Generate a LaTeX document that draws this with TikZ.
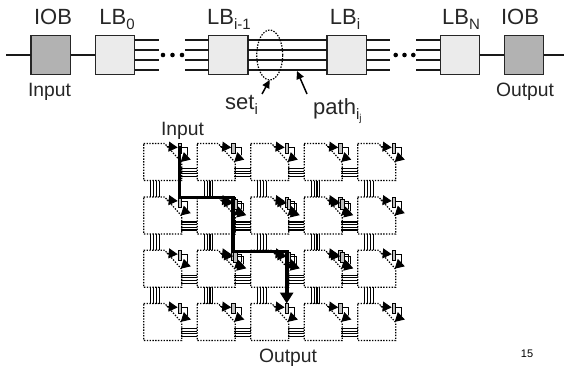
\documentclass[tikz,border=0pt]{standalone}
\usepackage{fontspec}
\setmainfont{Liberation Sans}
\usetikzlibrary{arrows.meta,shapes.geometric}
\newcommand{\fsz}[1]{\fontsize{#1}{#1}\selectfont}
\newcommand{\subt}[2]{\raisebox{-4.5pt}{\fsz{#1}#2}}
\tikzset{
 lbbox/.style={draw=black!85,line width=1.4pt,fill=black!8,minimum size=39.5pt,inner sep=0,outer sep=0,rectangle},
 iobbox/.style={lbbox,fill=black!30},
 wire/.style={line width=1.3pt,black!90},
 big/.style={anchor=base,inner sep=0,font=\fsz{22},text=black!85},
 small/.style={anchor=base,inner sep=0,font=\fsz{19.3},text=black!85},
 dotl/.style={line width=1.2pt,dash pattern=on 1.4pt off 1.4pt},
 dotc/.style={circle,fill=black,minimum size=4.6pt,inner sep=0},
 tip/.style={-{Triangle[length=9pt,width=10pt]},line width=1pt},
 gridw/.style={line width=1.05pt},
 ptr/.style={-{Triangle[length=8pt,width=7.5pt]},line width=1.5pt},
 thickp/.style={line width=3.8pt,-{Triangle[length=9pt,width=10pt]}},
}
\newcommand{\switch}[1][0]{%
 \draw[tip] (23+#1,3+#1) -- (34+#1,4+#1);
 \draw[line width=1pt] (38+#1,4+#1) -- (44+#1,4+#1) -- (44+#1,12+#1);
 \draw[tip] (44+#1,12+#1) -- (37+#1,18.5+#1);
 \draw[line width=1pt,fill=black!25] (34.5+#1,0.5+#1) rectangle (38+#1,10+#1);
}
\begin{document}
\begin{tikzpicture}[x=1pt,y=-1pt]
\useasboundingbox (0,0) rectangle (564,366);
% top row
\node[iobbox] (io1) at (50.8,55) {};
\node[lbbox] (l0) at (115,55) {};
\node[lbbox] (l1) at (228.3,55) {};
\node[lbbox] (l2) at (346.7,55) {};
\node[lbbox] (l3) at (460,55) {};
\node[iobbox] (io2) at (524,55) {};
\coordinate (inL) at (6,55);
\coordinate (outR) at (564,55);
\draw[wire] (inL) -- (io1.west);
\draw[wire] (io1.east) -- (l0.west);
\draw[wire] (l3.east) -- (io2.west);
\draw[wire] (io2.east) -- (outR);
\foreach \d in {-15,-5,5,15}{
 \draw[wire] ([yshift=\d pt]l0.east) -- ++(24,0);
 \draw[wire] ([yshift=\d pt]l1.west) -- ++(-24,0);
 \draw[wire] ([yshift=\d pt]l1.east) -- ([yshift=\d pt]l2.west);
 \draw[wire] ([yshift=\d pt]l2.east) -- ++(24,0);
 \draw[wire] ([yshift=\d pt]l3.west) -- ++(-24,0);
}
\foreach \n/\x in {a/163,b/172.5,c/182,d/395.7,e/404.5,f/413.3}{\node[dotc] (dot\n) at (\x,55) {};}
\node[big] (tio1) at (53,25) {IOB};
\node[big] (tl0) at (117,25) {LB\subt{15}{0}};
\node[big] (tl1) at (229,25) {LB\subt{15}{i-1}};
\node[big] (tl2) at (345,25) {LB\subt{15}{i}};
\node[big] (tl3) at (461,25) {LB\subt{15}{N}};
\node[big] (tio2) at (520,25) {IOB};
\node[small] (tin) at (49.5,96.5) {Input};
\node[small] (tout) at (525,96.5) {Output};
\node[ellipse,draw,dotl,minimum width=26pt,minimum height=50pt,inner sep=0,outer sep=0] (el) at (269.7,55) {};
\node[big,anchor=base west] (tset) at (225,110) {set\subt{15}{i}};
\node[big,anchor=base west] (tpath) at (313,115) {path\subt{15}{i\raisebox{-2pt}{\fsz{10}j}}};
\coordinate (sa) at (262,94);
\coordinate (pa) at (307,94);
\coordinate (pb) at (297,71);
\draw[ptr] (sa) -- (el.south);
\draw[ptr] (pa) -- (pb);
% grid
\foreach \c [count=\ci] in {143.7,197.2,250.7,304.2,357.7}{
 \foreach \r [count=\ri] in {143.5,197,250.2,303.4}{
  \begin{scope}[shift={(\c,\r)}]
   \draw[dotl] (0,0) -- (21,0) -- (38,19) -- (38,37) -- (0,37) -- cycle;
   \switch
   \ifnum\ci<5
    \foreach \d in {25,27.7,30.3,33}{\draw[gridw] (37,\d) -- (53.5,\d);}
   \fi
   \ifnum\ri<4
    \foreach \d in {7.2,10,12.8,15.5}{\draw[gridw] (\d,37) -- (\d,53.3);}
   \fi
  \end{scope}
 }
}
\foreach \c/\r in {197.2/197,250.7/197,304.2/197,197.2/250.2,304.2/250.2,250.7/250.2}{
 \begin{scope}[shift={(\c,\r)}]\switch[2]\end{scope}
}
\coordinate (p0) at (179.5,146);
\coordinate (p1) at (179.5,197.5);
\coordinate (p2) at (233,197.5);
\coordinate (p3) at (233,251.5);
\coordinate (p4) at (286.7,251.5);
\coordinate (p5) at (286.7,303.5);
\draw[line width=3.8pt,line join=miter] (p0) -- (p1) -- (p2) -- (p3) -- (p4) -- ++(0,36);
\draw[-{Triangle[length=11pt,width=13pt]},line width=3.8pt] (286.7,285) -- (p5);
\node[small] (gin) at (182.5,135.6) {Input};
\node[small] (gout) at (288,362.5) {Output};
\node[anchor=base,inner sep=0,font=\fsz{11}] (pg) at (527,357) {15};
\end{tikzpicture}
\end{document}
